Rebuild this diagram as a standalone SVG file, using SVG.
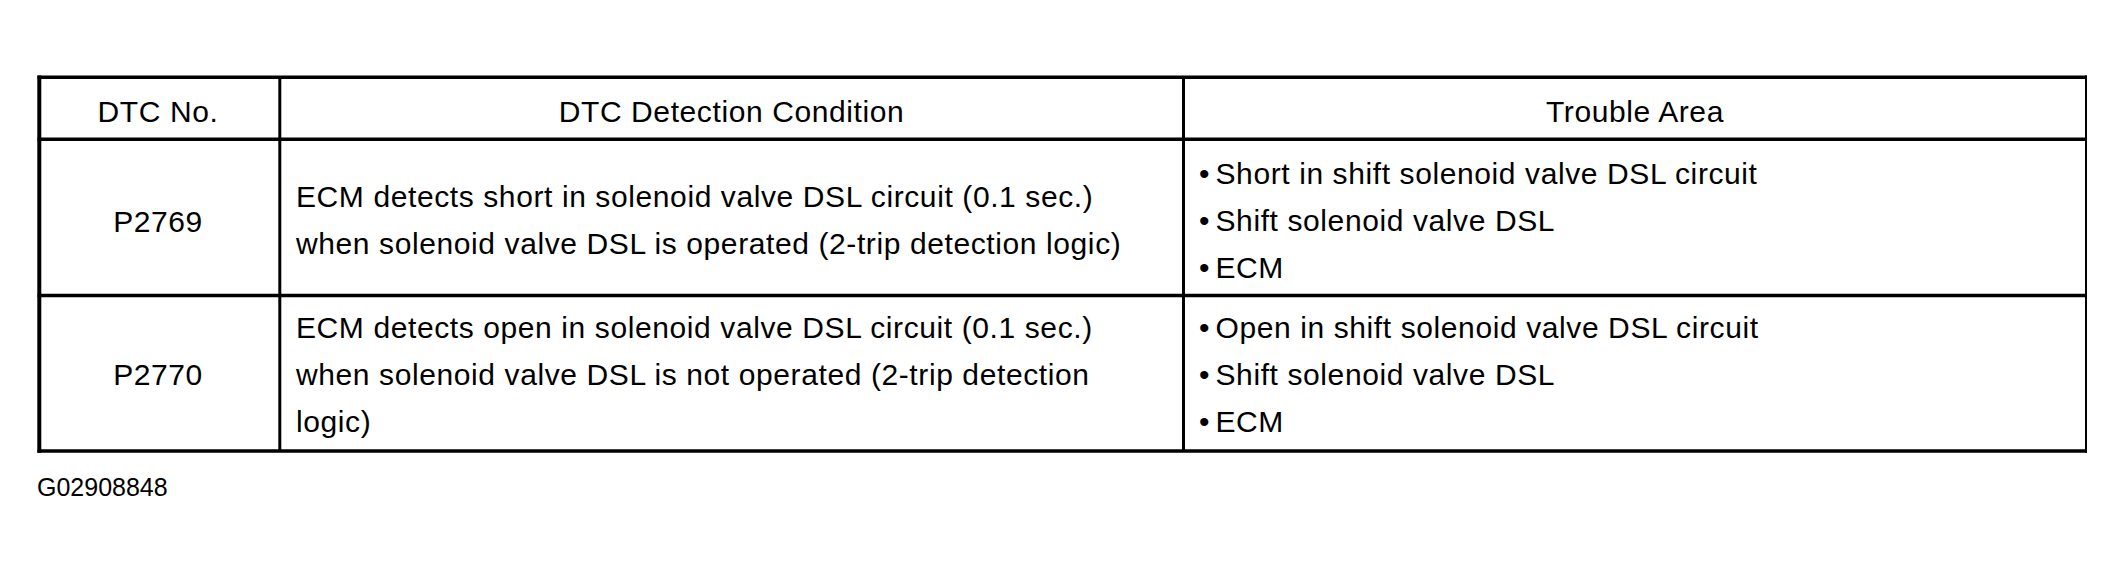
<svg xmlns="http://www.w3.org/2000/svg" width="2124" height="572" viewBox="0 0 2124 572">
<style>
text{font-family:"Liberation Sans",Arial,Helvetica,sans-serif;font-size:30px;letter-spacing:0.6px;fill:#000}
.c{text-anchor:middle}
.h{stroke:#000;stroke-width:3.5;fill:none}
.v{stroke:#000;stroke-width:3;fill:none}
.fig{font-size:25px;letter-spacing:0}
</style>
<rect width="2124" height="572" fill="#fff"/>
<g id="grid">
<line class="h" x1="37.5" y1="77.3" x2="2087" y2="77.3"/>
<line class="h" x1="37.5" y1="139.3" x2="2087" y2="139.3"/>
<line class="h" x1="37.5" y1="295.5" x2="2087" y2="295.5"/>
<line class="h" x1="37.5" y1="451" x2="2087" y2="451"/>
<line x1="39.3" y1="75.5" x2="39.3" y2="452.8" stroke="#000" stroke-width="4"/>
<line class="v" x1="279.8" y1="77.3" x2="279.8" y2="451"/>
<line class="v" x1="1183.5" y1="77.3" x2="1183.5" y2="451"/>
<line x1="2086" y1="75.5" x2="2086" y2="452.8" stroke="#000" stroke-width="2"/>
</g>
<g id="header">
<text class="c" x="158" y="121.5">DTC No.</text>
<text class="c" x="731.5" y="121.5">DTC Detection Condition</text>
<text class="c" x="1635" y="121.5">Trouble Area</text>
</g>
<g id="row-p2769">
<text class="c" x="158" y="231.7">P2769</text>
<text x="296" y="206.5">ECM detects short in solenoid valve DSL circuit (0.1 sec.)</text>
<text x="296" y="253.5">when solenoid valve DSL is operated (2-trip detection logic)</text>
<text x="1199" y="184.3">•<tspan x="1215.5">Short in shift solenoid valve DSL circuit</tspan></text>
<text x="1199" y="231.3">•<tspan x="1215.5">Shift solenoid valve DSL</tspan></text>
<text x="1199" y="278.3">•<tspan x="1215.5">ECM</tspan></text>
</g>
<g id="row-p2770">
<text class="c" x="158" y="385.3">P2770</text>
<text x="296" y="338.3">ECM detects open in solenoid valve DSL circuit (0.1 sec.)</text>
<text x="296" y="385.3">when solenoid valve DSL is not operated (2-trip detection</text>
<text x="296" y="432.3">logic)</text>
<text x="1199" y="338.3">•<tspan x="1215.5">Open in shift solenoid valve DSL circuit</tspan></text>
<text x="1199" y="385.3">•<tspan x="1215.5">Shift solenoid valve DSL</tspan></text>
<text x="1199" y="432.3">•<tspan x="1215.5">ECM</tspan></text>
</g>
<g id="figure-id">
<text class="fig" x="37" y="496">G02908848</text>
</g>
</svg>
